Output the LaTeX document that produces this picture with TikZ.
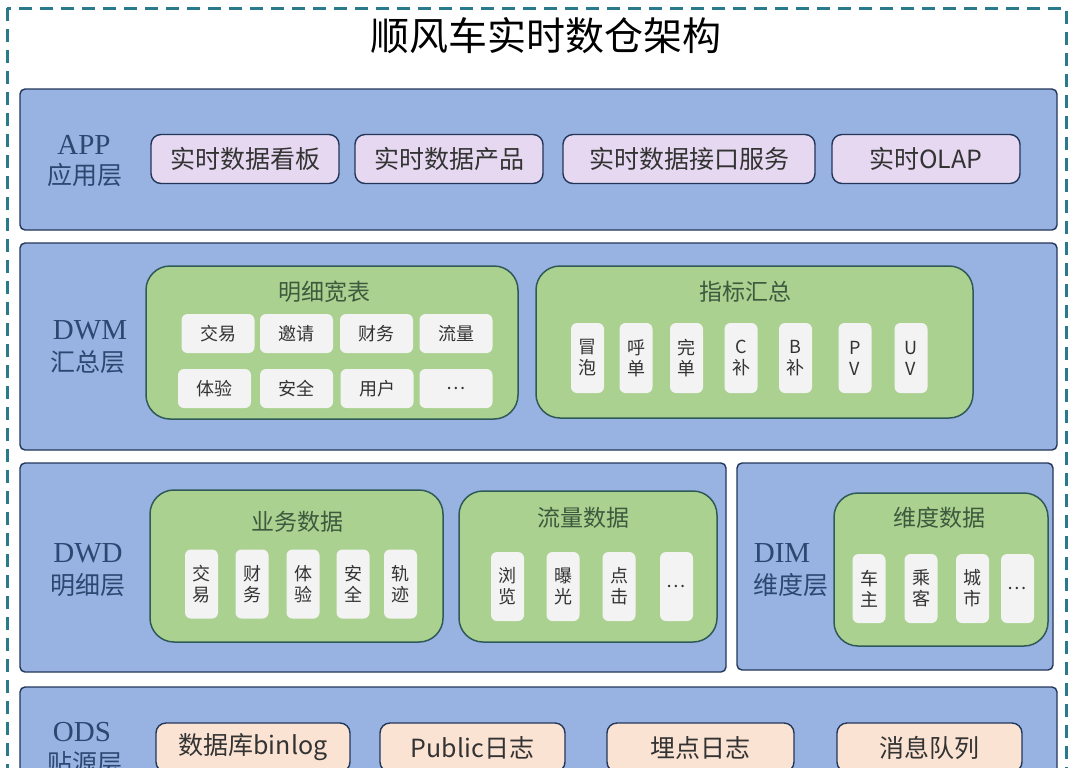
\documentclass[tikz,border=0pt]{standalone}
\usepackage{fontspec}
\setmainfont{Noto Sans CJK SC}
\newfontfamily\tagfont{Liberation Serif}
\usepackage{xcolor}
\usepackage{tikz}
\usetikzlibrary{positioning}
\definecolor{sfcFrame}{HTML}{2A7A8C}
\definecolor{sfcLayer}{HTML}{98B2E2}
\definecolor{sfcEdge}{HTML}{22365A}
\definecolor{sfcGreen}{HTML}{AAD18F}
\definecolor{sfcGreenEdge}{HTML}{2F5A58}
\definecolor{sfcCell}{HTML}{F3F3F3}
\definecolor{sfcApp}{HTML}{E6D8F0}
\definecolor{sfcOds}{HTML}{FAE3D3}
\definecolor{sfcTag}{HTML}{2C4770}
\definecolor{sfcInk}{HTML}{333333}
\definecolor{sfcGroupInk}{HTML}{3D5A3F}

\begin{document}
\begin{tikzpicture}[
  x=.5pt,y=-.5pt,
  frame/.style={draw=sfcFrame,line width=1.5pt,dash pattern=on 6.5pt off 4pt},
  layer/.style={draw=sfcEdge,line width=.7pt,fill=sfcLayer,rounded corners=2.5pt},
  group/.style={draw=sfcGreenEdge,line width=.75pt,fill=sfcGreen,rounded corners=12pt},
  grouptitle/.style={font=\fontsize{11.5}{13}\selectfont,text=sfcGroupInk},
  cell/.style={fill=sfcCell,rounded corners=3pt,inner sep=0pt,text=sfcInk,
    font=\fontsize{9}{10.5}\selectfont,align=center,minimum width=36.5pt,minimum height=19.5pt},
  vcell/.style={cell,minimum width=16.5pt,minimum height=34.5pt},
  item/.style={draw=sfcEdge,line width=.7pt,rounded corners=5pt,inner sep=0pt,
    minimum height=24.5pt,font=\fontsize{12.5}{14}\selectfont,text=sfcInk},
  tag/.style={font=\tagfont\fontsize{14.5}{16}\selectfont,text=sfcTag},
  tagsub/.style={font=\fontsize{12.5}{14}\selectfont,text=sfcTag}
]
  \useasboundingbox (0,0) rectangle (1072,767);
  \clip (0,0) rectangle (1072,767);
  \draw[frame] (7,8) rectangle (1066,820);
  \node[font=\fontsize{19.5}{22}\selectfont] (title) at (546,36) {顺风车实时数仓架构};

  % APP
  \draw[layer] (20,89) rectangle (1057,230);
  \node[tag] (apptag) at (84,145) {APP};
  \node[tagsub] (appsub) at (85,175) {应用层};
  \foreach \cx/\w/\txt [count=\i] in {245/94/实时数据看板,449/94/实时数据产品,689/126/实时数据接口服务,926/94/实时OLAP}
    \node[item,fill=sfcApp,minimum width=\w pt] (app\i) at (\cx,159) {\txt};

  % DWM
  \draw[layer] (20,243) rectangle (1057,450);
  \node[tag] (dwmtag) at (90,330) {DWM};
  \node[tagsub] (dwmsub) at (88,362) {汇总层};
  \draw[group] (146,266) rectangle (518,419);
  \node[grouptitle] (widetitle) at (324.5,292) {明细宽表};
  \foreach \cx/\cy/\txt [count=\i] in {218/333.5/交易,296.5/333.5/邀请,376.5/333.5/财务,456/333.5/流量,
      214.5/388.5/体验,296.5/388.5/安全,377/388.5/用户,456/388.5/…}
    \node[cell] (wide\i) at (\cx,\cy) {\txt};
  \draw[group] (536,266) rectangle (973,418);
  \node[grouptitle] (kpititle) at (745,292) {指标汇总};
  \foreach \cx/\txt [count=\i] in {587.5/{冒\\泡},636/{呼\\单},686.5/{完\\单},741/{C\\补},795.5/{B\\补},855/{P\\V},911/{U\\V}}
    \node[vcell,minimum height=35pt] (kpi\i) at (\cx,358) {\txt};

  % DWD
  \draw[layer] (20,463) rectangle (726,672);
  \node[tag] (dwdtag) at (88,553) {DWD};
  \node[tagsub] (dwdsub) at (88,585) {明细层};
  \draw[group] (150,490) rectangle (443,642);
  \node[grouptitle] (biztitle) at (297,522) {业务数据};
  \foreach \cx/\txt [count=\i] in {201.5/{交\\易},252/{财\\务},303/{体\\验},353/{安\\全},400.5/{轨\\迹}}
    \node[vcell] (biz\i) at (\cx,584) {\txt};
  \draw[group] (459,491) rectangle (717,642);
  \node[grouptitle] (flowtitle) at (583,518) {流量数据};
  \foreach \cx/\txt [count=\i] in {507.5/{浏\\览},563/{曝\\光},619/{点\\击},676.5/…}
    \node[vcell] (flow\i) at (\cx,586.5) {\txt};

  % DIM
  \draw[layer] (737,463) rectangle (1053,670);
  \node[tag] (dimtag) at (782,553) {DIM};
  \node[tagsub] (dimsub) at (791,585) {维度层};
  \draw[group] (834,493) rectangle (1048,646);
  \node[grouptitle] (dimtitle) at (939,518) {维度数据};
  \foreach \cx/\txt [count=\i] in {869/{车\\主},921/{乘\\客},972.5/{城\\市},1017.5/…}
    \node[vcell] (dim\i) at (\cx,588.5) {\txt};

  % ODS
  \draw[layer] (20,687) rectangle (1057,830);
  \node[tag] (odstag) at (82,732) {ODS};
  \node[tagsub] (odssub) at (85,763) {贴源层};
  \foreach \cx/\w/\txt [count=\i] in {253/97/数据库binlog,472.5/92.5/Public日志,700.5/93.5/埋点日志,929.5/92.5/消息队列}
    \node[item,fill=sfcOds,minimum width=\w pt] (ods\i) at (\cx,747.5) {\txt};
\end{tikzpicture}
\end{document}
